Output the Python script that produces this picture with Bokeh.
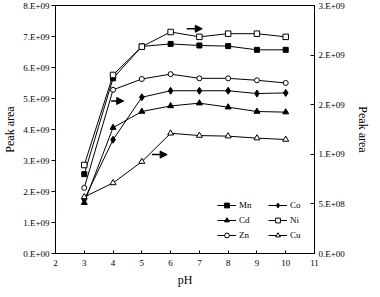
from bokeh.plotting import figure
from bokeh.models import Range1d, LinearAxis, FixedTicker, Legend, LegendItem, Arrow, NormalHead
from bokeh.embed import file_html
from bokeh.resources import INLINE

ph = [3, 4, 5, 6, 7, 8, 9, 10]
# left-axis series
mn = [2.56e9, 5.65e9, 6.68e9, 6.76e9, 6.71e9, 6.69e9, 6.57e9, 6.57e9]
co = [1.74e9, 3.67e9, 5.04e9, 5.25e9, 5.25e9, 5.25e9, 5.16e9, 5.18e9]
cd = [1.64e9, 4.06e9, 4.58e9, 4.76e9, 4.85e9, 4.72e9, 4.58e9, 4.56e9]
# right-axis series
ni = [0.892e9, 1.80e9, 2.085e9, 2.233e9, 2.184e9, 2.216e9, 2.216e9, 2.184e9]
zn = [0.662e9, 1.65e9, 1.759e9, 1.808e9, 1.766e9, 1.766e9, 1.746e9, 1.719e9]
cu = [0.570e9, 0.711e9, 0.926e9, 1.212e9, 1.189e9, 1.183e9, 1.163e9, 1.149e9]

x_ticks = [2, 3, 4, 5, 6, 7, 8, 9, 10, 11]
left_ticks = [0, 1e9, 2e9, 3e9, 4e9, 5e9, 6e9, 7e9, 8e9]
left_labels = ["0.E+00", "1.E+09", "2.E+09", "3.E+09", "4.E+09", "5.E+09", "6.E+09", "7.E+09", "8.E+09"]
right_ticks = [0, 5e8, 1e9, 1.5e9, 2e9, 2.5e9]
right_labels = ["0.E+00", "5.E+08", "1.E+09", "2.E+09", "2.E+09", "3.E+09"]

arrow_x0 = [6.56, 3.93, 5.35]
arrow_x1 = [7.10, 4.37, 5.88]
arrow_y = [7.25e9, 4.92e9, 3.19e9]

FONT = "Liberation Serif"

p = figure(width=372, height=289, output_backend="svg", toolbar_location=None,
           x_range=Range1d(2, 11), y_range=Range1d(0, 8e9),
           min_border_left=46, min_border_right=53, min_border_top=5, min_border_bottom=36)
p.extra_y_ranges = {"right": Range1d(0, 2.5e9)}
p.xgrid.visible = False
p.ygrid.visible = False
p.outline_line_color = "black"
p.outline_line_width = 1
p.background_fill_color = "white"
p.border_fill_color = "white"

def style_axis(ax):
    ax.axis_line_color = "black"
    ax.major_tick_line_color = "black"
    ax.minor_tick_line_color = None
    ax.major_label_text_font = FONT
    ax.major_label_text_font_size = "9px"
    ax.major_label_text_color = "black"
    ax.axis_label_text_font = FONT
    ax.axis_label_text_font_size = "12px"
    ax.axis_label_text_font_style = "normal"
    ax.axis_label_text_color = "black"

xa = p.xaxis[0]
xa.ticker = FixedTicker(ticks=x_ticks)
xa.axis_label = "pH"
style_axis(xa)
xa.major_tick_in = 3
xa.major_tick_out = 0
xa.major_label_standoff = 6
xa.axis_label_standoff = 4

ya = p.yaxis[0]
ya.ticker = FixedTicker(ticks=left_ticks)
ya.major_label_overrides = {t: l for t, l in zip(left_ticks, left_labels)}
ya.axis_label = "Peak area"
style_axis(ya)
ya.major_tick_in = 0
ya.major_tick_out = 4
ya.major_label_standoff = 2
ya.axis_label_standoff = 3

ra = LinearAxis(y_range_name="right")
ra.ticker = FixedTicker(ticks=right_ticks)
ra.major_label_overrides = {t: l for t, l in zip(right_ticks, right_labels)}
ra.axis_label = "Peak area"
style_axis(ra)
ra.major_tick_in = 4
ra.major_tick_out = 0
ra.major_label_standoff = 4
ra.axis_label_standoff = 8
p.add_layout(ra, "right")

def series(y, marker, fill, size, rng="default"):
    l = p.line(ph, y, line_color="black", line_width=1, y_range_name=rng)
    s = p.scatter(ph, y, marker=marker, size=size, line_color="black", line_width=1,
                  fill_color=fill, y_range_name=rng)
    return [l, s]

r_mn = series(mn, "square", "black", 5)
r_co = series(co, "diamond", "black", 7)
r_cd = series(cd, "triangle", "black", 6)
r_ni = series(ni, "square", "white", 5.5, "right")
r_zn = series(zn, "circle", "white", 5, "right")
r_cu = series(cu, "triangle", "white", 6, "right")

for x0, x1, y in zip(arrow_x0, arrow_x1, arrow_y):
    p.add_layout(Arrow(end=NormalHead(size=7, fill_color="black", line_color="black"),
                       x_start=x0, x_end=x1, y_start=y, y_end=y,
                       line_color="black", line_width=1.5))

def make_legend(items, loc):
    lg = Legend(items=items, location=loc, orientation="vertical",
                padding=0, margin=0, spacing=3, glyph_height=12, glyph_width=19,
                label_height=12, label_standoff=3,
                label_text_font=FONT, label_text_font_size="9px", label_text_color="black",
                border_line_color=None, background_fill_alpha=0)
    p.add_layout(lg, "center")

make_legend([LegendItem(label="Mn", renderers=r_mn),
             LegendItem(label="Cd", renderers=r_cd),
             LegendItem(label="Zn", renderers=r_zn)], (162, 12))
make_legend([LegendItem(label="Co", renderers=r_co),
             LegendItem(label="Ni", renderers=r_ni),
             LegendItem(label="Cu", renderers=r_cu)], (213, 12))

open("out.html", "w").write(file_html(p, INLINE))
